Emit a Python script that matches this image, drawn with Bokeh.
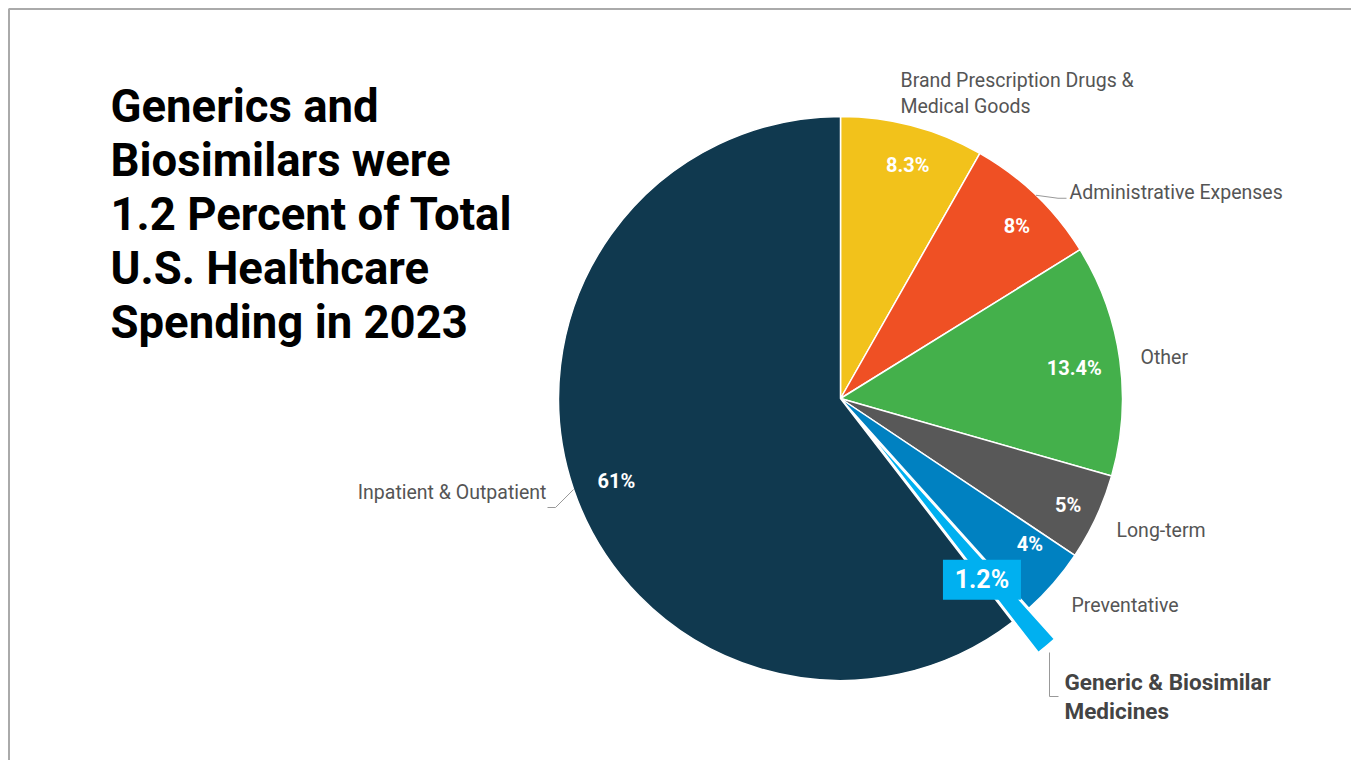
import math
from bokeh.plotting import figure
from bokeh.models import Range1d
from bokeh.core.properties import value
from bokeh.embed import file_html
from bokeh.resources import INLINE

# ---- data ----
categories = ["Brand Prescription Drugs & Medical Goods", "Administrative Expenses", "Other",
              "Long-term", "Preventative", "Generic & Biosimilar Medicines", "Inpatient & Outpatient"]
values = [8.3, 8.0, 13.4, 5.0, 4.0, 1.2, 61.0]
colors = ["#F2C21B", "#EF5024", "#44B04B", "#585858", "#0081C1", "#00B0F0", "#10394F"]
title_lines = ["Generics and", "Biosimilars were", "1.2 Percent of Total",
               "U.S. Healthcare", "Spending in 2023"]

W, H = 1351, 760
def Y(yp):
    return H - yp

p = figure(width=W, height=H, x_range=Range1d(0, W), y_range=Range1d(0, H),
           output_backend="svg", toolbar_location=None,
           x_axis_location=None, y_axis_location=None,
           min_border=0, min_border_left=0, min_border_right=0,
           min_border_top=0, min_border_bottom=0)
p.grid.visible = False
p.outline_line_color = None
p.background_fill_color = "white"
p.border_fill_color = "white"

# frame border of the slide
p.line(x=[8.5, 8.5, W + 5], y=[-5, Y(8.5), Y(8.5)], line_color="#AAAAAA", line_width=2)

# ---- pie ----
cx, cy, R = 840, Y(398), 282
total = sum(values)
cum = 0.0
starts, ends, mids = [], [], []
for v in values:
    t0 = cum / total * 2 * math.pi
    cum += v
    t1 = cum / total * 2 * math.pi
    starts.append(t0); ends.append(t1); mids.append((t0 + t1) / 2)

explode_idx = 5
explode = 40
for i, v in enumerate(values):
    ox = oy = 0.0
    if i == explode_idx:
        ox = explode * math.sin(mids[i]); oy = explode * math.cos(mids[i])
    p.wedge(x=cx + ox, y=cy + oy, radius=R,
            start_angle=math.pi / 2 - ends[i], end_angle=math.pi / 2 - starts[i],
            direction="anticlock", fill_color=colors[i], line_color="white", line_width=1.5)

# percentage labels (small layout nudges, in pixels)
nudge = {0: (6, -1), 1: (10, 0), 2: (-4, 3), 3: (10, 6), 4: (8, -12), 6: (3, 5)}
for i, v in enumerate(values):
    lab = f"{v:g}%"
    if i == explode_idx:
        r = 232
        lx = cx + r * math.sin(mids[i]) - 7; ly = cy + r * math.cos(mids[i]) - 3
        p.rect(x=lx, y=ly, width=78, height=40, fill_color=colors[i], line_color=None)
        p.text(x=[lx], y=[ly], text=[lab], text_color="white", text_font=value("Roboto"),
               text_font_style="bold", text_font_size="25px", text_align="center",
               text_baseline="middle")
    else:
        r = 240
        dx, dy = nudge.get(i, (0, 0))
        lx = cx + r * math.sin(mids[i]) + dx; ly = cy + r * math.cos(mids[i]) - dy
        p.text(x=[lx], y=[ly], text=[lab], text_color="white", text_font=value("Roboto"),
               text_font_style="bold", text_font_size="20px", text_align="center",
               text_baseline="middle")

# outer labels
lab_color = "#555555"
def label(x, yp, txt, align="left", bold=False, size="19.5px", color=lab_color):
    p.text(x=[x], y=[Y(yp)], text=[txt], text_color=color, text_font=value("Roboto"),
           text_font_style="bold" if bold else "normal", text_font_size=size,
           text_align=align, text_baseline="middle")

label(900, 80, "Brand Prescription Drugs &")
label(900, 106, "Medical Goods")
label(1069, 192, categories[1])
label(1140, 357, categories[2])
label(1116, 530, categories[3])
label(1071, 605, categories[4])
label(1064, 681, "Generic & Biosimilar", bold=True, size="22.5px", color="#444444")
label(1064, 710, "Medicines", bold=True, size="22.5px", color="#444444")
label(546, 492, categories[6], align="right")

# leader lines
lc = "#999999"
ax = cx + R * math.sin(mids[1]); ay = cy + R * math.cos(mids[1])
p.line(x=[ax, ax + 22, 1066], y=[ay, ay - 3, ay - 3], line_color=lc, line_width=1)
ix = cx + R * math.sin(mids[6]); iy = cy + R * math.cos(mids[6])
p.line(x=[ix, 555, 547], y=[iy, Y(507), Y(507)], line_color=lc, line_width=1)
p.line(x=[1049, 1049, 1058], y=[Y(652), Y(696), Y(696)], line_color=lc, line_width=1)

# title
for k, t in enumerate(title_lines):
    p.text(x=[110], y=[Y(106 + k * 54)], text=[t], text_color="black",
           text_font=value("Roboto"), text_font_style="bold", text_font_size="45.5px",
           text_align="left", text_baseline="middle")

open("out.html", "w").write(file_html(p, INLINE))
